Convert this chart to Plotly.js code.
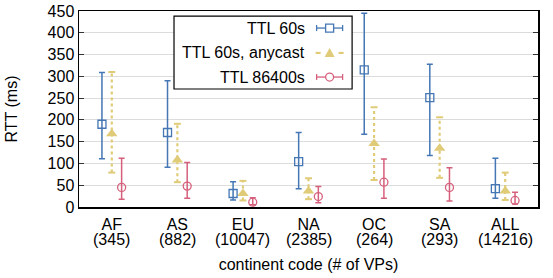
<!DOCTYPE html>
<html>
<head>
<meta charset="utf-8">
<script src="https://cdn.plot.ly/plotly-3.0.1.min.js"></script>
<style>html,body{margin:0;padding:0;background:#fff}#chart{width:553px;height:278px}</style>
</head>
<body>
<div id="chart"></div>
<script>
// ---- data ----
const categories = ["AF", "AS", "EU", "NA", "OC", "SA", "ALL"];
const vpCounts = ["(345)", "(882)", "(10047)", "(2385)", "(264)", "(293)", "(14216)"];

const ttl60Med = [190, 171, 31, 104, 315, 251, 42];
const ttl60Lo  = [111, 91, 16, 42, 167, 118, 20];
const ttl60Hi  = [309, 290, 58, 171, 445, 328, 112];

const anyMed = [168, 108, 31, 37, 146, 135, 37];
const anyLo  = [79, 57, 15, 18, 62, 67, 16];
const anyHi  = [310, 191, 60, 66, 229, 206, 79];

const ttl864Med = [45, 48, 11, 24, 57, 45, 15];
const ttl864Lo  = [18, 20, 5, 10, 20, 14, 7];
const ttl864Hi  = [112, 102, 21, 47, 110, 90, 34];

const yTicks = [0, 50, 100, 150, 200, 250, 300, 350, 400, 450];

// ---- styles ----
const BLUE = "#4477b3";
const YEL = "#e0cb78";
const PINK = "#d6607c";
const FONT = "Liberation Sans, Arial, sans-serif";
const OFF = 0.15;

const idx = categories.map((c, i) => i);

const blueTrace = {
  type: "scatter", mode: "markers", showlegend: false,
  x: idx.map(i => i - OFF), y: ttl60Med,
  marker: {symbol: "square-open", size: 8, color: BLUE, line: {width: 1.3}},
  error_y: {type: "data", symmetric: false,
    array: ttl60Hi.map((h, i) => h - ttl60Med[i]),
    arrayminus: ttl60Med.map((m, i) => m - ttl60Lo[i]),
    color: BLUE, thickness: 1.5, width: 3}
};

const pinkTrace = {
  type: "scatter", mode: "markers", showlegend: false,
  x: idx.map(i => i + OFF), y: ttl864Med,
  marker: {symbol: "circle-open", size: 8, color: PINK, line: {width: 1.3}},
  error_y: {type: "data", symmetric: false,
    array: ttl864Hi.map((h, i) => h - ttl864Med[i]),
    arrayminus: ttl864Med.map((m, i) => m - ttl864Lo[i]),
    color: PINK, thickness: 1.5, width: 3}
};

// dashed whiskers for anycast
const wx = [], wy = [];
idx.forEach(i => { wx.push(i, i, null); wy.push(anyLo[i], anyHi[i], null); });
const yelWhisk = {
  type: "scatter", mode: "lines+markers", showlegend: false,
  x: wx, y: wy, connectgaps: false,
  line: {color: YEL, width: 2.2, dash: "3px,3px"},
  marker: {symbol: "line-ew", size: 5, color: YEL, line: {color: YEL, width: 2}}
};
const yelTrace = {
  type: "scatter", mode: "markers", showlegend: false,
  x: idx, y: anyMed,
  marker: {symbol: "triangle-up", size: 10, color: YEL}
};

// ---- custom legend (symbol at right of text) ----
const legX = 0.546, legTextX = 0.497;
const legRows = [0.913, 0.786, 0.663];
const legNames = ["TTL 60s", "TTL 60s, anycast", "TTL 86400s"];
const shapes = [];
function pxShape(type, xa, ya, x0, y0, x1, y1, line, fill, path) {
  const s = {type: type, xref: "paper", yref: "paper", xsizemode: "pixel", ysizemode: "pixel",
    xanchor: xa, yanchor: ya, line: line, layer: "above"};
  if (type === "path") s.path = path; else { s.x0 = x0; s.x1 = x1; s.y0 = y0; s.y1 = y1; }
  if (fill) s.fillcolor = fill;
  return s;
}
// legend box
shapes.push({type: "rect", xref: "paper", yref: "paper", x0: 0.207, x1: 0.595, y0: 0.602, y1: 0.974,
  line: {color: "#000", width: 1.2}, fillcolor: "#fff", layer: "above"});
[[BLUE, 0], [PINK, 2]].forEach(([col, r]) => {
  const ya = legRows[r];
  shapes.push(pxShape("line", legX, ya, -13, 0, 13, 0, {color: col, width: 1.3}));
  shapes.push(pxShape("line", legX, ya, -13, -3, -13, 3, {color: col, width: 1.3}));
  shapes.push(pxShape("line", legX, ya, 13, -3, 13, 3, {color: col, width: 1.3}));
  if (r === 0) shapes.push(pxShape("rect", legX, ya, -4, -4, 4, 4, {color: col, width: 1.3}, "#fff"));
  else shapes.push(pxShape("circle", legX, ya, -4, -4, 4, 4, {color: col, width: 1.3}, "#fff"));
});
(function () {
  const ya = legRows[1];
  shapes.push(pxShape("line", legX, ya, -14, 0, -9, 0, {color: YEL, width: 2.2}));
  shapes.push(pxShape("line", legX, ya, 9, 0, 14, 0, {color: YEL, width: 2.2}));
  shapes.push(pxShape("path", legX, ya, 0, 0, 0, 0, {color: YEL, width: 0}, YEL, "M-5,-4 L5,-4 L0,5 Z"));
})();

const annotations = legNames.map((t, r) => ({
  xref: "paper", yref: "paper", x: legTextX, y: legRows[r], xanchor: "right", yanchor: "middle",
  text: t, showarrow: false, font: {family: FONT, size: 16, color: "#000"}
}));
vpCounts.forEach((c, i) => annotations.push({
  xref: "x", yref: "paper", x: i, y: -0.168, xanchor: "center", yanchor: "middle",
  text: c, showarrow: false, font: {family: FONT, size: 16, color: "#000"}
}));

const layout = {
  width: 553, height: 278,
  margin: {l: 79, r: 15, t: 11, b: 71},
  paper_bgcolor: "#fff", plot_bgcolor: "#fff",
  font: {family: FONT, size: 16, color: "#000"},
  showlegend: false,
  xaxis: {
    range: [-0.5, 6.5], tickmode: "array", tickvals: idx, ticktext: categories,
    showgrid: false, zeroline: false, showline: true, linecolor: "#000", linewidth: 1.5,
    mirror: true, ticks: "", ticklabelstandoff: 2,
    tickfont: {family: FONT, size: 16, color: "#000"},
    title: {text: "continent code (# of VPs)", font: {family: FONT, size: 16, color: "#000"}, standoff: 27}
  },
  yaxis: {
    range: [0, 450], tickmode: "array", tickvals: yTicks, ticktext: yTicks.map(String),
    showgrid: true, gridcolor: "#dcdcdc", gridwidth: 1, zeroline: false,
    showline: true, linecolor: "#000", linewidth: 1.5, mirror: "ticks",
    ticks: "inside", ticklen: 5, tickcolor: "#333", tickwidth: 1,
    tickfont: {family: FONT, size: 16, color: "#000"},
    title: {text: "RTT (ms)", font: {family: FONT, size: 16, color: "#000"}, standoff: 26}
  },
  shapes: shapes,
  annotations: annotations
};

Plotly.newPlot("chart", [yelWhisk, yelTrace, blueTrace, pinkTrace], layout, {displayModeBar: false, staticPlot: true});
</script>
</body>
</html>
